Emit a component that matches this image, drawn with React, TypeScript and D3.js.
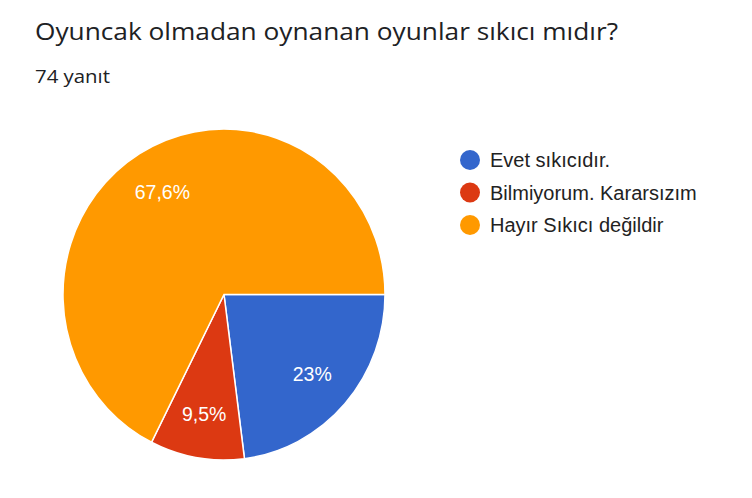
import React, { useMemo } from 'react';
import * as d3 from 'd3';

const labels = ['Evet sıkıcıdır.', 'Bilmiyorum. Kararsızım', 'Hayır Sıkıcı değildir'];
const counts = [17, 7, 50];
const colors = ['#3366cc', '#dc3912', '#ff9900'];
const sliceLabels = ['23%', '9,5%', '67,6%'];

const WIDTH = 752,
    HEIGHT = 498;

const CENTER = { X: 224, Y: 294.5 };
// the picture is a touch taller than wide, so the pie is drawn a little elliptical
const RADIUS = { X: 161, Y: 165.5 };

const App = () => {
    const arcs = useMemo(() => d3.pie<number>()
        .sort(null)
        .startAngle(Math.PI / 2)
        .endAngle(Math.PI / 2 + 2 * Math.PI)(counts), []);

    const arcGen = d3.arc<d3.PieArcDatum<number>>().innerRadius(0).outerRadius(RADIUS.X);
    const labelArc = d3.arc<d3.PieArcDatum<number>>().innerRadius(RADIUS.X * 0.73).outerRadius(RADIUS.X * 0.73);
    const sy = RADIUS.Y / RADIUS.X;

    const legendY = d3.scalePoint<string>().domain(labels).range([160, 225]);

    return (
        <svg width={WIDTH} height={HEIGHT} style={{ position: 'fixed', left: 0, top: 0, background: '#fff' }}>
            <text x={35} y={40} fontFamily='Open Sans' fontSize={23} fill='#202124'
                textLength={583} lengthAdjust='spacingAndGlyphs'>Oyuncak olmadan oynanan oyunlar sıkıcı mıdır?</text>
            <text x={35} y={83} fontFamily='Open Sans' fontSize={19} fill='#202124'
                textLength={75} lengthAdjust='spacingAndGlyphs'>74 yanıt</text>
            <g transform={`translate(${CENTER.X},${CENTER.Y})`}>
                <g transform={`scale(1,${sy})`}>
                    {arcs.map((a, i) => (
                        <path key={`slice-${i}`} d={arcGen(a) || ''} fill={colors[i]} stroke='#fff' strokeWidth={1.5} />
                    ))}
                </g>
                {arcs.map((a, i) => {
                    const [x, y] = labelArc.centroid(a);
                    return (
                        <text key={`lab-${i}`} x={x} y={y * sy} dy='0.36em' textAnchor='middle'
                            fontFamily='Liberation Sans' fontSize={19.5} fill='#fff'>{sliceLabels[i]}</text>
                    );
                })}
            </g>
            {labels.map((l, i) => (
                <g key={`leg-${i}`} transform={`translate(0,${legendY(l)})`}>
                    <circle cx={470} cy={0} r={10} fill={colors[i]} />
                    <text x={490} y={0} dy='0.36em' fontFamily='Liberation Sans' fontSize={20} fill='#222'>{l}</text>
                </g>
            ))}
        </svg>
    );
};

export default App;
